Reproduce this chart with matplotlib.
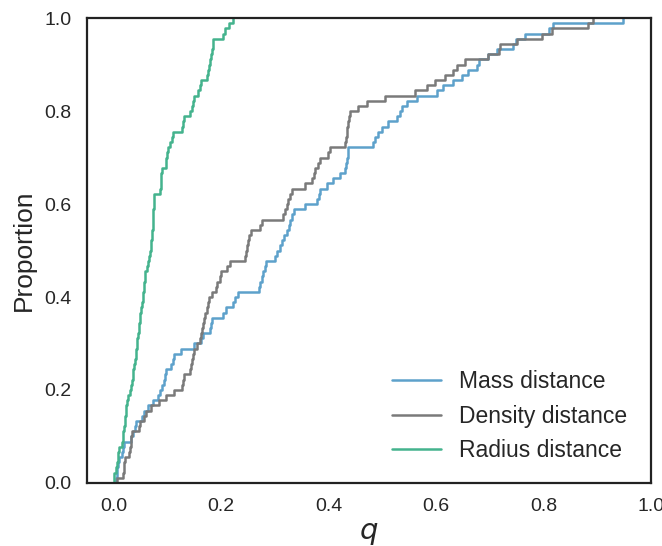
import matplotlib
matplotlib.use("Agg")
import matplotlib.pyplot as plt
import seaborn as sns
import pandas as pd

# sorted q values (90 objects per distance)
mass_q = [
    0.004, 0.006, 0.007, 0.009, 0.011, 0.015, 0.017, 0.019, 0.032, 0.036,
    0.039, 0.041, 0.053, 0.057, 0.065, 0.074, 0.082, 0.087, 0.091, 0.093,
    0.095, 0.097, 0.106, 0.110, 0.112, 0.125, 0.149, 0.162, 0.167, 0.180,
    0.182, 0.184, 0.203, 0.210, 0.223, 0.226, 0.232, 0.270, 0.273, 0.277,
    0.279, 0.281, 0.283, 0.301, 0.305, 0.310, 0.314, 0.318, 0.323, 0.327,
    0.329, 0.332, 0.335, 0.357, 0.379, 0.382, 0.385, 0.398, 0.409, 0.422,
    0.431, 0.433, 0.435, 0.436, 0.437, 0.483, 0.487, 0.493, 0.500, 0.511,
    0.528, 0.533, 0.536, 0.546, 0.565, 0.602, 0.613, 0.632, 0.649, 0.660,
    0.677, 0.680, 0.697, 0.714, 0.743, 0.749, 0.766, 0.810, 0.818, 0.948,
]
density_q = [
    0.007, 0.017, 0.019, 0.020, 0.022, 0.028, 0.030, 0.032, 0.033, 0.035,
    0.047, 0.050, 0.056, 0.060, 0.069, 0.084, 0.097, 0.112, 0.128, 0.130,
    0.132, 0.143, 0.145, 0.146, 0.147, 0.149, 0.156, 0.160, 0.162, 0.164,
    0.167, 0.169, 0.171, 0.173, 0.175, 0.178, 0.184, 0.190, 0.193, 0.199,
    0.200, 0.212, 0.217, 0.245, 0.247, 0.249, 0.251, 0.253, 0.255, 0.273,
    0.277, 0.316, 0.319, 0.323, 0.325, 0.329, 0.333, 0.357, 0.370, 0.373,
    0.375, 0.381, 0.385, 0.400, 0.403, 0.431, 0.433, 0.434, 0.435, 0.437,
    0.439, 0.440, 0.455, 0.472, 0.506, 0.561, 0.584, 0.598, 0.617, 0.632,
    0.639, 0.654, 0.697, 0.717, 0.719, 0.751, 0.797, 0.816, 0.883, 0.892,
]
radius_q = [
    0.000, 0.001, 0.004, 0.006, 0.008, 0.009, 0.010, 0.016, 0.017, 0.018,
    0.019, 0.021, 0.022, 0.023, 0.024, 0.025, 0.026, 0.030, 0.032, 0.034,
    0.036, 0.037, 0.038, 0.040, 0.041, 0.042, 0.043, 0.044, 0.046, 0.047,
    0.048, 0.049, 0.050, 0.051, 0.052, 0.054, 0.055, 0.056, 0.057, 0.058,
    0.059, 0.062, 0.064, 0.066, 0.067, 0.069, 0.070, 0.071, 0.072, 0.0725,
    0.073, 0.0735, 0.074, 0.0745, 0.075, 0.075, 0.087, 0.088, 0.089, 0.089,
    0.090, 0.097, 0.098, 0.100, 0.102, 0.105, 0.108, 0.110, 0.128, 0.130,
    0.132, 0.143, 0.146, 0.148, 0.150, 0.158, 0.160, 0.163, 0.174, 0.176,
    0.178, 0.180, 0.182, 0.183, 0.185, 0.186, 0.203, 0.208, 0.215, 0.223,
]

labels = ["Mass distance", "Density distance", "Radius distance"]
colors = ["#5da1cb", "#7a7a7a", "#44b38d"]

sns.set_style("white")
plt.rcParams["font.family"] = ["Liberation Sans", "DejaVu Sans"]

df = pd.concat([
    pd.DataFrame({"q": vals, "kind": lab})
    for vals, lab in zip([mass_q, density_q, radius_q], labels)
])

fig = plt.figure(figsize=(6.62, 5.46), dpi=100)
ax = fig.add_axes([0.131, 0.1154, 0.852, 0.8516])

for lab, col in zip(labels, colors):
    sns.ecdfplot(data=df[df["kind"] == lab], x="q", ax=ax, color=col,
                 linewidth=1.8, label=lab)

ax.set_xlim(-0.05, 1.0)
ax.set_ylim(0, 1.0)
ax.set_xticks([0.0, 0.2, 0.4, 0.6, 0.8, 1.0])
ax.set_yticks([0.0, 0.2, 0.4, 0.6, 0.8, 1.0])
ax.tick_params(labelsize=14, length=0, pad=11)
ax.set_xlabel("$q$", fontsize=21, labelpad=3)
ax.set_ylabel("Proportion", fontsize=19, labelpad=6)
for sp in ax.spines.values():
    sp.set_color("#222222")
    sp.set_linewidth(1.6)

ax.legend(loc="lower right", bbox_to_anchor=(0.994, 0.0), frameon=False,
          fontsize=16.5, handlelength=2.15, handletextpad=0.75)

fig.savefig("out.png", dpi=100)
